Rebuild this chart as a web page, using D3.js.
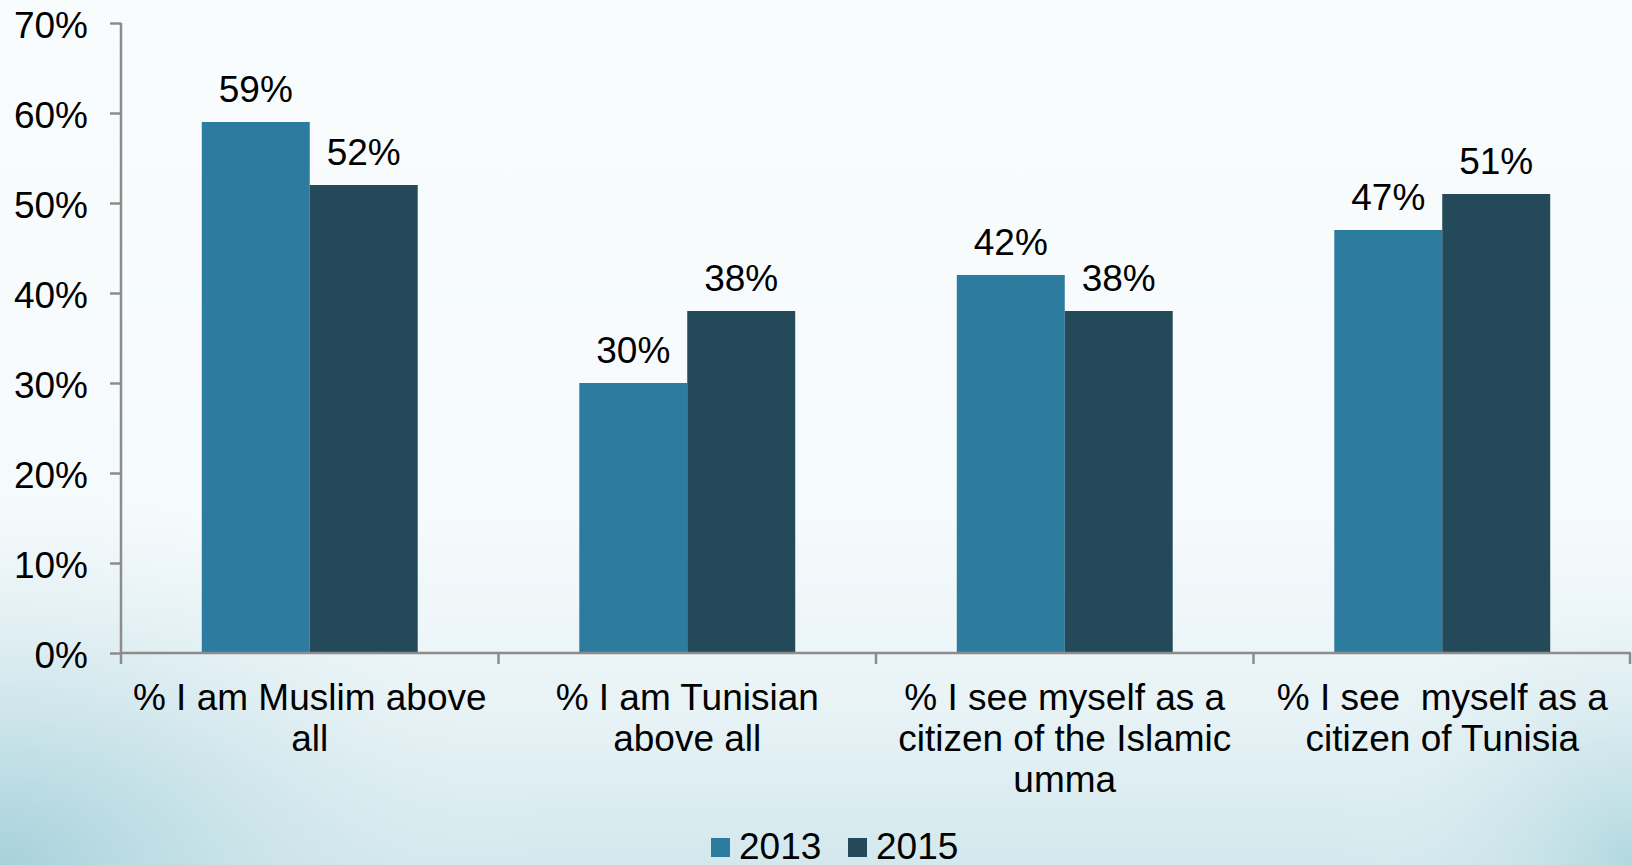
<!DOCTYPE html>
<html>
<head>
<meta charset="utf-8">
<script src="https://cdn.jsdelivr.net/npm/d3@7"></script>
<style>
  html, body { margin: 0; padding: 0; overflow: hidden; }
  svg { display: block; }
  text { font-family: "Liberation Sans", Arial, sans-serif; fill: #000; }
</style>
</head>
<body>
<svg id="chart" width="1632" height="865"></svg>
<script>
// Survey answers, share of respondents
const categories = [
  ["% I am Muslim above", "all"],
  ["% I am Tunisian", "above all"],
  ["% I see myself as a", "citizen of the Islamic", "umma"],
  ["% I see  myself as a", "citizen of Tunisia"]
];
const seriesNames = ["2013", "2015"];
const values2013 = [59, 30, 42, 47];
const values2015 = [52, 38, 38, 51];
const yTicks = [0, 10, 20, 30, 40, 50, 60, 70];
const colors = ["#2d7ca0", "#244a5a"];

const W = 1632, H = 865;
const margin = { left: 121, right: 1, top: 23, bottom: 212 };
const FONT = 37;
const svg = d3.select("#chart");

// Soft slide background
const defs = svg.append("defs");
const lin = defs.append("linearGradient").attr("id", "bgLin")
  .attr("x1", 0).attr("y1", 0).attr("x2", 0).attr("y2", 1);
lin.append("stop").attr("offset", "0").attr("stop-color", "#f9fcfd");
lin.append("stop").attr("offset", "0.6").attr("stop-color", "#f5fafc");
lin.append("stop").attr("offset", "0.82").attr("stop-color", "#e8f3f6");
lin.append("stop").attr("offset", "1").attr("stop-color", "#d3e8ed");

const radL = defs.append("radialGradient").attr("id", "bgRadL")
  .attr("gradientUnits", "userSpaceOnUse")
  .attr("cx", 0).attr("cy", 865).attr("r", 420)
  .attr("gradientTransform", "translate(0,865) scale(1.3,0.9) translate(0,-865)");
radL.append("stop").attr("offset", "0").attr("stop-color", "#a6d1db").attr("stop-opacity", 1);
radL.append("stop").attr("offset", "0.45").attr("stop-color", "#c2dfe6").attr("stop-opacity", 0.6);
radL.append("stop").attr("offset", "1").attr("stop-color", "#e6f2f5").attr("stop-opacity", 0);

const radR = defs.append("radialGradient").attr("id", "bgRadR")
  .attr("gradientUnits", "userSpaceOnUse")
  .attr("cx", 1632).attr("cy", 865).attr("r", 300);
radR.append("stop").attr("offset", "0").attr("stop-color", "#b0d7df").attr("stop-opacity", 0.95);
radR.append("stop").attr("offset", "1").attr("stop-color", "#e6f2f5").attr("stop-opacity", 0);

svg.append("rect").attr("width", W).attr("height", H).attr("fill", "url(#bgLin)");
svg.append("rect").attr("width", W).attr("height", H).attr("fill", "url(#bgRadL)");
svg.append("rect").attr("width", W).attr("height", H).attr("fill", "url(#bgRadR)");

const x0 = d3.scaleBand()
  .domain(d3.range(categories.length))
  .range([margin.left, W - margin.right])
  .paddingInner(0.428)
  .paddingOuter(0.214);
const x1 = d3.scaleBand()
  .domain(seriesNames)
  .range([0, x0.bandwidth()]);
const y = d3.scaleLinear().domain([0, 70]).range([H - margin.bottom, margin.top]);

const bandStep = (W - margin.right - margin.left) / categories.length;

// Bars and value labels
const rows = categories.map((c, i) => ({ i, vals: [values2013[i], values2015[i]] }));
const g = svg.append("g");
rows.forEach(r => {
  r.vals.forEach((v, s) => {
    const bx = x0(r.i) + x1(seriesNames[s]);
    g.append("rect")
      .attr("x", bx)
      .attr("y", y(v))
      .attr("width", x1.bandwidth())
      .attr("height", y(0) - y(v))
      .attr("fill", colors[s]);
    g.append("text")
      .attr("x", bx + x1.bandwidth() / 2)
      .attr("y", y(v) - 20)
      .attr("text-anchor", "middle")
      .attr("font-size", FONT)
      .text(v + "%");
  });
});

// Y axis
const yAxis = d3.axisLeft(y).tickValues(yTicks).tickFormat(d => d + "%").tickSize(11).tickPadding(22);
const yg = svg.append("g").attr("transform", `translate(${margin.left},0)`).call(yAxis);
yg.select(".domain").attr("stroke", "#8c8c8c").attr("stroke-width", 2.5).attr("d", `M0,${y(70)}V${y(0)}`);
yg.selectAll(".tick line").attr("stroke", "#8c8c8c").attr("stroke-width", 2.5);
yg.selectAll(".tick text").attr("font-size", FONT).attr("dy", "0.4em").attr("fill", "#000")
  .style("font-family", '"Liberation Sans", Arial, sans-serif');

// X axis: baseline with category dividers
const xg = svg.append("g");
xg.append("line")
  .attr("x1", margin.left).attr("x2", W - margin.right)
  .attr("y1", y(0)).attr("y2", y(0))
  .attr("stroke", "#8c8c8c").attr("stroke-width", 2.5);
d3.range(categories.length + 1).forEach(k => {
  const xt = margin.left + k * bandStep - (k === categories.length ? 1 : 0);
  xg.append("line")
    .attr("x1", xt).attr("x2", xt)
    .attr("y1", y(0)).attr("y2", y(0) + 11)
    .attr("stroke", "#8c8c8c").attr("stroke-width", 2.5);
});

// Category labels
categories.forEach((lines, i) => {
  const cx = x0(i) + x0.bandwidth() / 2;
  const t = svg.append("text")
    .attr("text-anchor", "middle")
    .attr("font-size", FONT)
    .style("white-space", "pre");
  lines.forEach((ln, j) => {
    t.append("tspan").attr("x", cx).attr("y", 710 + j * 41).text(ln);
  });
});

// Legend
const legend = svg.append("g").attr("transform", "translate(711,838)");
const legendItems = [{ name: seriesNames[0], x: 0 }, { name: seriesNames[1], x: 137 }];
legendItems.forEach((d, s) => {
  legend.append("rect").attr("x", d.x).attr("y", 0).attr("width", 19).attr("height", 19).attr("fill", colors[s]);
  legend.append("text").attr("x", d.x + 28).attr("y", 21).attr("font-size", FONT).text(d.name);
});
</script>
</body>
</html>
